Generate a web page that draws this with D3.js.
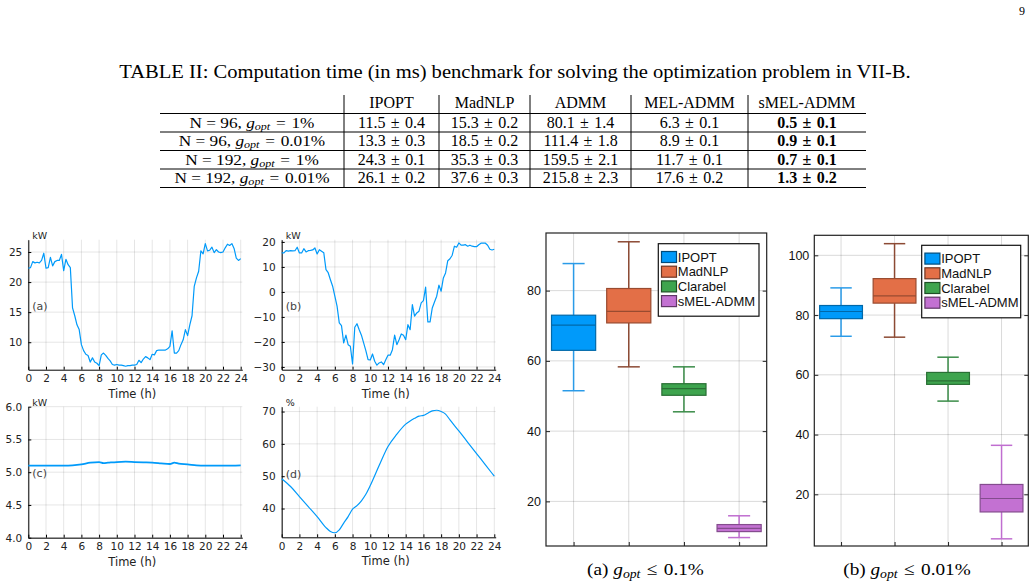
<!DOCTYPE html>
<html><head><meta charset="utf-8">
<script src="https://cdn.jsdelivr.net/npm/d3@7"></script>
<style>
body{margin:0;background:#fff;}
svg{display:block;}
</style></head><body>
<svg id="fig" width="1035" height="582"></svg>
<script>
// ---- table data ----
const tableCols = ['IPOPT','MadNLP','ADMM','MEL-ADMM','sMEL-ADMM'];
const rowN = [96, 96, 192, 192];
const rowGap = ['1%', '0.01%', '1%', '0.01%'];
const tableMean = [
  ['11.5','15.3','80.1','6.3','0.5'],
  ['13.3','18.5','111.4','8.9','0.9'],
  ['24.3','35.3','159.5','11.7','0.7'],
  ['26.1','37.6','215.8','17.6','1.3']
];
const tableStd = [
  ['0.4','0.2','1.4','0.1','0.1'],
  ['0.3','0.2','1.8','0.1','0.1'],
  ['0.1','0.3','2.1','0.1','0.1'],
  ['0.2','0.3','2.3','0.2','0.2']
];

// ---- time series [hour, value] ----
const hourTicks = [0,2,4,6,8,10,12,14,16,18,20,22,24];
const seriesA = [[0,22.3],[0.25,22.4],[0.5,23.4],[0.75,23.2],[1,23.3],[1.25,23.2],[1.5,23.6],[1.75,24.8],[2,22.3],[2.25,22.4],[2.5,24.1],[2.75,22.7],[3,23.4],[3.25,23.6],[3.5,23.6],[3.75,24.6],[4,21.9],[4.25,23.8],[4.5,22.9],[4.75,22.4],[5,15.7],[5.25,14.4],[5.5,12.9],[5.75,12.1],[6,9.6],[6.25,8.6],[6.5,8.0],[6.75,7.8],[7,6.7],[7.25,7.4],[7.5,6.7],[7.75,6.5],[8,6.1],[8.25,7.9],[8.5,8.2],[8.75,7.8],[9,7.3],[9.25,6.9],[9.5,6.3],[9.75,6.2],[10,6.3],[10.25,6.2],[10.5,6.2],[10.75,6.1],[11,6.0],[11.25,6.1],[11.5,6.1],[11.75,6.2],[12,6.2],[12.25,6.3],[12.5,7.0],[12.75,6.6],[13,7.2],[13.25,7.6],[13.5,7.4],[13.75,7.1],[14,8.0],[14.25,7.9],[14.5,8.6],[14.75,8.7],[15,8.7],[15.25,8.7],[15.5,8.7],[15.75,8.9],[16,9.3],[16.25,11.9],[16.5,8.2],[16.75,8.2],[17,8.6],[17.25,9.6],[17.5,10.4],[17.75,12.1],[18,11.1],[18.25,12.9],[18.5,14.4],[18.75,19.3],[19,20.7],[19.25,21.8],[19.5,25.2],[19.75,24.7],[20,26.4],[20.25,25.2],[20.5,25.3],[20.75,25.8],[21,24.9],[21.25,25.4],[21.5,25.0],[21.75,24.9],[22,25.0],[22.25,25.7],[22.5,26.3],[22.75,26.1],[23,26.4],[23.25,25.6],[23.5,24.0],[23.75,23.6],[24,23.9]];
const seriesB = [[0,15.6],[0.25,15.6],[0.5,16.5],[0.75,16.3],[1,16.5],[1.25,16.4],[1.5,16.5],[1.75,17.9],[2,15.6],[2.25,15.6],[2.5,17.3],[2.75,16.0],[3,16.5],[3.25,16.6],[3.5,16.8],[3.75,17.6],[4,15.2],[4.25,16.9],[4.5,16.3],[4.75,15.7],[5,8.9],[5.25,7.7],[5.5,4.9],[5.75,2.3],[6,-1.7],[6.25,-5.7],[6.5,-12.4],[6.75,-13.5],[7,-20.4],[7.25,-17.3],[7.5,-21.1],[7.75,-21.7],[8,-28.8],[8.25,-14.1],[8.5,-12.7],[8.75,-15.1],[9,-17.3],[9.25,-20.4],[9.5,-23.5],[9.75,-27.1],[10,-27.2],[10.25,-24.8],[10.5,-27.7],[10.75,-29.3],[11,-28.4],[11.25,-28.0],[11.5,-29.1],[11.75,-27.1],[12,-25.3],[12.25,-25.3],[12.5,-23.1],[12.75,-17.3],[13,-21.1],[13.25,-19.1],[13.5,-16.8],[13.75,-17.3],[14,-19.1],[14.25,-13.1],[14.5,-15.1],[14.75,-5.1],[15,-9.7],[15.25,-8.4],[15.5,-7.7],[15.75,-4.4],[16,-3.5],[16.25,1.9],[16.5,-12.0],[16.75,-12.0],[17,-6.4],[17.25,-4.0],[17.5,-1.7],[17.75,2.7],[18,0.3],[18.25,5.6],[18.5,7.6],[18.75,12.5],[19,13.3],[19.25,14.7],[19.5,18.3],[19.75,17.9],[20,19.6],[20.25,18.7],[20.5,18.7],[20.75,18.9],[21,18.3],[21.25,18.7],[21.5,18.3],[21.75,18.1],[22,18.1],[22.25,18.9],[22.5,19.5],[22.75,19.5],[23,19.5],[23.25,18.7],[23.5,17.1],[23.75,16.8],[24,17.1]];
const seriesC = [[0,5.10],[2,5.10],[4,5.10],[5,5.105],[6,5.12],[7,5.145],[8,5.155],[8.5,5.14],[9,5.145],[10,5.155],[11,5.16],[12,5.155],[13,5.15],[14,5.145],[15,5.135],[16,5.125],[16.5,5.145],[17,5.13],[18,5.12],[19,5.105],[20,5.10],[22,5.10],[23,5.10],[24,5.105]];
const seriesD = [[0,49.2],[1,46.8],[2,43.7],[3,40.6],[4,37.5],[5,34.1],[5.5,32.9],[6,32.5],[6.5,33.4],[7,35.5],[7.5,37.5],[8,39.8],[8.5,40.9],[9,42.4],[9.5,44.4],[10,47.1],[11,53.3],[12,59.2],[13,63.0],[14,66.1],[14.5,67.1],[15,67.9],[15.5,68.6],[16,68.8],[16.5,69.5],[17,70.2],[17.5,70.4],[18,70.0],[18.5,69.2],[19,67.4],[20,64.0],[21,60.5],[22,57.0],[23,53.5],[24,50.0]];

// ---- box plots: [lower whisker, q1, median, q3, upper whisker] ----
const solvers = ['IPOPT','MadNLP','Clarabel','sMEL-ADMM'];
const boxA = [[51.5,63.0,70.2,73.0,87.7],[58.3,70.8,74.1,80.6,93.9],[45.5,50.2,52.1,53.5,58.3],[9.7,11.4,12.3,13.4,15.9]];
const boxB = [[72.9,78.8,81.2,83.2,89.1],[72.6,84.0,86.4,92.2,103.9],[51.2,56.8,58.0,60.8,65.9],[5.1,14.1,18.6,23.3,36.4]];
const ticksBoxA = [20,40,60,80];
const ticksBoxB = [20,40,60,80,100];

// ---- style ----
const SERIF = '"Liberation Serif","Times New Roman",serif';
const SANS = '"DejaVu Sans",sans-serif';
const ARIAL = '"Liberation Sans",Arial,sans-serif';
const LINE = '#009AFA';
const FILLS = ['#009AFA','#E36F47','#3EA44E','#C371D2'];
const WHISK = ['#2a9be8','#8c4a34','#3a8c48','#c06ed0'];
const SP = '\u2004'; // math-ish spacing around operators

const svg = d3.select('#fig');
svg.append('rect').attr('width',1035).attr('height',582).attr('fill','#fff');

// serif text, optionally stretched horizontally around its anchor
function stext(parent, x, y, size, sx, anchor){
  return parent.append('text').attr('transform',`translate(${x},${y}) scale(${sx||1},1)`)
    .attr('text-anchor',anchor||'middle').attr('font-family',SERIF).attr('font-size',size).attr('fill','#000');
}
// italic g with subscript "opt", then the rest back on the baseline
function gopt(t, subSize, drop, rest){
  t.append('tspan').attr('font-style','italic').text('g');
  t.append('tspan').attr('font-style','italic').attr('font-size',subSize).attr('dy',drop).text('opt');
  t.append('tspan').attr('dy',-drop).text(rest);
}

stext(svg,1025,15,12,1,'end').text('9');

// ---- table ----
stext(svg,515,77.5,18.7,1.1).text('TABLE II: Computation time (in ms) benchmark for solving the optimization problem in VII-B.');

const colEdges = [160,344,439,530,631,748,866];
const ruleY = [113.5,132,150.5,169,187.5];
const tb = svg.append('g');
tb.selectAll('line.h').data(ruleY).join('line').attr('class','h')
  .attr('x1',colEdges[0]).attr('x2',colEdges[6]).attr('y1',d=>d).attr('y2',d=>d)
  .attr('stroke','#000').attr('stroke-width',1);
tb.selectAll('line.v').data(colEdges.slice(1,6)).join('line').attr('class','v')
  .attr('x1',d=>d).attr('x2',d=>d).attr('y1',95).attr('y2',ruleY[4])
  .attr('stroke','#000').attr('stroke-width',1);
const colMid = i => (colEdges[i]+colEdges[i+1])/2;
tableCols.forEach((c,i)=> stext(tb,colMid(i+1),107.5,16).text(c));
rowN.forEach((n,r)=>{
  const yb = (ruleY[r]+ruleY[r+1])/2 + 5.2;
  const t = stext(tb,colMid(0),yb,15,1.15);
  t.append('tspan').text('N = '+n+', ');
  gopt(t, 10.5, 2, SP+'='+SP+rowGap[r]);
  tableMean[r].forEach((m,c)=>{
    stext(tb,colMid(c+1),yb,16).attr('font-weight',c===4?'bold':'normal')
      .text(m+SP+'±'+SP+tableStd[r][c]);
  });
});

// ---- line panels ----
function linePanel(o){
  const x = d3.scaleLinear().domain([0,o.xmax]).range([o.l,o.r]);
  const y = d3.scaleLinear().domain(o.yd).range([o.b,o.t]);
  const g = svg.append('g');
  g.selectAll('line.gx').data(hourTicks).join('line').attr('class','gx')
    .attr('x1',d=>x(d)).attr('x2',d=>x(d)).attr('y1',o.t).attr('y2',o.b)
    .attr('stroke','#000').attr('stroke-opacity',0.1).attr('stroke-width',1);
  g.selectAll('line.gy').data(o.yt).join('line').attr('class','gy')
    .attr('x1',o.l).attr('x2',o.r).attr('y1',d=>y(d)).attr('y2',d=>y(d))
    .attr('stroke','#000').attr('stroke-opacity',0.1).attr('stroke-width',1);
  const ax = g.append('g').attr('transform',`translate(0,${o.b})`)
    .call(d3.axisBottom(x).tickValues(hourTicks).tickFormat(d3.format('d')).tickSize(-3).tickSizeOuter(0).tickPadding(5));
  const ay = g.append('g').attr('transform',`translate(${o.l},0)`)
    .call(d3.axisLeft(y).tickValues(o.yt).tickFormat(o.fmt).tickSize(-3).tickSizeOuter(0).tickPadding(6));
  [ax,ay].forEach(a=>{
    a.attr('font-family',SANS).attr('font-size',10.5);
    a.select('.domain').attr('stroke','#000');
    a.selectAll('.tick line').attr('stroke','#000');
    a.selectAll('.tick text').attr('fill','#222');
  });
  const line = d3.line().x(d=>x(d[0])).y(d=>y(d[1]));
  if(o.smooth) line.curve(d3.curveMonotoneX);
  g.append('path').datum(o.data).attr('d',line).attr('fill','none')
    .attr('stroke',LINE).attr('stroke-width',o.sw||1.2).attr('stroke-linejoin','round');
  g.append('text').attr('x',o.l+4).attr('y',o.t-1).attr('font-family',SANS).attr('font-size',9.5)
    .attr('fill','#222').text(o.unit);
  g.append('text').attr('x',o.l+4).attr('y',y(o.tagY)).attr('dy','0.35em').attr('font-family',SANS)
    .attr('font-size',11).attr('fill','#444').text(o.tag);
  g.append('text').attr('x',(o.l+o.r)/2 - 3).attr('y',o.b+28).attr('text-anchor','middle')
    .attr('font-family',SANS).attr('font-size',11.5).attr('fill','#222').text('Time (h)');
}
linePanel({l:28.3,r:242.3,t:239.7,b:369.7,xmax:24.18,yd:[5.43,27.05],yt:[10,15,20,25],fmt:d3.format('d'),
  data:seriesA,unit:'kW',tag:'(a)',tagY:16});
linePanel({l:281.7,r:495.7,t:239.7,b:369.7,xmax:24.16,yd:[-31.1,20.9],yt:[-30,-20,-10,0,10,20],fmt:d3.format('d'),
  data:seriesB,unit:'kW',tag:'(b)',tagY:-5.5});
linePanel({l:28.3,r:242.3,t:406.7,b:537.7,xmax:24.18,yd:[4,6],yt:[4,4.5,5,5.5,6],fmt:d3.format('.1f'),
  data:seriesC,unit:'kW',tag:'(c)',tagY:4.98,smooth:true,sw:1.8});
linePanel({l:281.7,r:495.7,t:406.7,b:537.3,xmax:24.16,yd:[31.1,71.5],yt:[40,50,60,70],fmt:d3.format('d'),
  data:seriesD,unit:'%',tag:'(d)',tagY:50.6,smooth:true});

// ---- box panels ----
function boxPanel(o){
  const x = d3.scaleLinear().domain([0.5,4.5]).range([o.l,o.r]);
  const y = d3.scaleLinear().domain(o.yd).range([o.b,o.t]);
  const g = svg.append('g');
  const cats = solvers.map((s,i)=>i+1);
  g.selectAll('line.gy').data(o.yt).join('line').attr('class','gy')
    .attr('x1',o.l).attr('x2',o.r).attr('y1',d=>y(d)).attr('y2',d=>y(d))
    .attr('stroke','#000').attr('stroke-opacity',0.15);
  g.selectAll('line.gx').data(cats).join('line').attr('class','gx')
    .attr('x1',d=>x(d)).attr('x2',d=>x(d)).attr('y1',o.t).attr('y2',o.b)
    .attr('stroke','#000').attr('stroke-opacity',0.15);
  const ay = g.append('g').attr('transform',`translate(${o.l},0)`)
    .call(d3.axisLeft(y).tickValues(o.yt).tickSize(-4).tickSizeOuter(0).tickPadding(5));
  const ar = g.append('g').attr('transform',`translate(${o.r},0)`)
    .call(d3.axisRight(y).tickValues(o.yt).tickSize(-4).tickSizeOuter(0).tickFormat(''));
  const ab = g.append('g').attr('transform',`translate(0,${o.b})`)
    .call(d3.axisBottom(x).tickValues(cats).tickSize(-4).tickSizeOuter(0).tickFormat(''));
  [ay,ar,ab].forEach(a=>{
    a.attr('font-family',ARIAL).attr('font-size',12.5);
    a.select('.domain').remove();
    a.selectAll('.tick line').attr('stroke','#222');
    a.selectAll('.tick text').attr('fill','#111');
  });
  o.stats.forEach((s,i)=>{
    const cx = x(i+1), bw = x(1.4)-x(1), cw = x(1.2)-x(1);
    const fill = FILLS[i], edge = d3.color(fill).darker(1.1);
    const wg = g.append('g').attr('stroke',WHISK[i]).attr('stroke-width',1.5);
    wg.append('line').attr('x1',cx).attr('x2',cx).attr('y1',y(s[0])).attr('y2',y(s[1]));
    wg.append('line').attr('x1',cx).attr('x2',cx).attr('y1',y(s[3])).attr('y2',y(s[4]));
    wg.append('line').attr('x1',cx-cw).attr('x2',cx+cw).attr('y1',y(s[0])).attr('y2',y(s[0]));
    wg.append('line').attr('x1',cx-cw).attr('x2',cx+cw).attr('y1',y(s[4])).attr('y2',y(s[4]));
    g.append('rect').attr('x',cx-bw).attr('y',y(s[3])).attr('width',2*bw).attr('height',y(s[1])-y(s[3]))
      .attr('fill',fill).attr('stroke',edge).attr('stroke-width',1.2);
    g.append('line').attr('x1',cx-bw).attr('x2',cx+bw).attr('y1',y(s[2])).attr('y2',y(s[2]))
      .attr('stroke',edge).attr('stroke-width',1.2);
  });
  g.append('rect').attr('x',o.l).attr('y',o.t).attr('width',o.r-o.l).attr('height',o.b-o.t)
    .attr('fill','none').attr('stroke','#222').attr('stroke-width',1.2);
  // legend
  const lg = g.append('g').attr('transform',`translate(${o.lx},${o.ly})`);
  lg.append('rect').attr('width',o.lw).attr('height',72.5).attr('fill','#fff').attr('stroke','#111').attr('stroke-width',1.2);
  solvers.forEach((s,i)=>{
    const ry = 13.3 + i*14.7;
    lg.append('rect').attr('x',3.2).attr('y',ry-5.5).attr('width',15).attr('height',11)
      .attr('fill',FILLS[i]).attr('stroke',d3.color(FILLS[i]).darker(2)).attr('stroke-width',1.2);
    lg.append('text').attr('x',19.5).attr('y',ry).attr('dy','0.36em').attr('font-family',ARIAL)
      .attr('font-size',13).attr('fill','#111').text(s);
  });
  // caption
  const c = stext(svg,o.capX,575,17.5,1.1);
  c.append('tspan').text(o.cap[0]+' ');
  gopt(c, 12.5, 3, SP+'≤'+SP+o.cap[1]);
}
boxPanel({l:546,r:766.7,t:233,b:546,yd:[7.3,96.4],yt:ticksBoxA,stats:boxA,
  lx:658.3,ly:243.7,lw:100.7,capX:645.5,cap:['(a)','0.1%']});
boxPanel({l:814.3,r:1028.3,t:235.3,b:546,yd:[2.7,106.7],yt:ticksBoxB,stats:boxB,
  lx:921.7,ly:245.3,lw:99,capX:907,cap:['(b)','0.01%']});
</script>
</body></html>
